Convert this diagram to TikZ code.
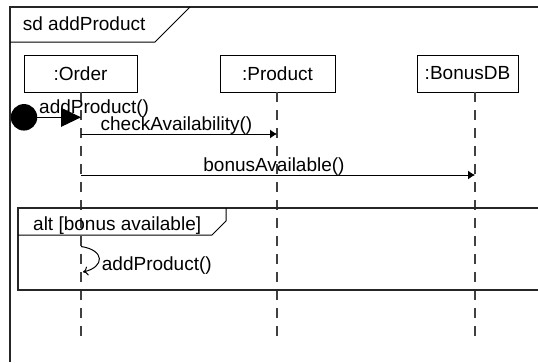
\documentclass[tikz,border=0pt]{standalone}
\usepackage{fontspec}
\setmainfont{Liberation Sans}
\usetikzlibrary{arrows.meta}

\tikzset{
  txt/.style={font=\fontsize{19}{22}\selectfont, inner sep=0pt},
  headbox/.style={draw, line width=1pt, inner sep=0pt, minimum height=37pt, txt},
  lifeline/.style={draw=black!75, line width=1.3pt, dash pattern=on 10pt off 8pt},
  msg/.style={line width=1pt, -{Latex[length=7pt,width=9pt]}},
  frameline/.style={line width=1.3pt, draw=black!85}
}

\begin{document}
\begin{tikzpicture}[x=1pt, y=-1pt]

\useasboundingbox (0,0) rectangle (538,362);

% Outer sd frame and its name tab
\draw[frameline] (538,7) -- (10,7) -- (10,362);
\draw[line width=1pt] (10,42) -- (155,42) -- (190,7);
\node[txt, anchor=base west] (sdname) at (22.7,30.7) {sd addProduct};

% Lifeline heads
\node[headbox, minimum width=113pt] (order) at (80.5,73.5) {:Order};
\node[headbox, minimum width=115pt] (product) at (277.5,73.5) {:Product};
\node[headbox, minimum width=101pt] (bonusdb) at (467.5,73.5) {:BonusDB};

% Dashed lifelines
\foreach \name/\x in {order/81, product/277, bonusdb/475} {
    \coordinate (\name-top) at (\x,92);
    \coordinate (\name-end) at (\x,339);
    \draw[lifeline] (\name-top) -- (\name-end);
}

% Found message into :Order
\node[circle, fill, minimum size=26.5pt, inner sep=0pt] (start) at (24,117.3) {};
\coordinate (order-m1) at (81,117.3);
\draw[line width=1pt, -{Triangle[length=20pt,width=19pt]}] (start) -- (order-m1);
\node[txt, anchor=base west] (m1label) at (39,113.3) {addProduct()};

% Synchronous calls
\coordinate (order-m2) at (81,134);
\coordinate (product-m2) at (277,134);
\draw[msg] (order-m2) -- (product-m2);
\node[txt, anchor=base] (m2label) at (176.5,130) {checkAvailability()};

\coordinate (order-m3) at (81,175);
\coordinate (bonusdb-m3) at (475,175);
\draw[msg] (order-m3) -- (bonusdb-m3);
\node[txt, anchor=base] (m3label) at (274,171) {bonusAvailable()};

% alt fragment
\draw[frameline] (538,208) -- (18,208) -- (18,290) -- (538,290);
\draw[line width=1pt] (18,235) -- (212,235) -- (226,221) -- (226,208);
\node[txt, anchor=base west] (altlabel) at (33,230) {alt [bonus available]};

% Self call on :Order
\coordinate (order-s1) at (81,246.5);
\coordinate (order-s2) at (83,272);
\draw[line width=1pt, -{To[length=5pt,width=9pt]}] (order-s1) .. controls (105,250) and (105,267) .. (order-s2);
\node[txt, anchor=base west] (m4label) at (101.7,270) {addProduct()};

\end{tikzpicture}
\end{document}
